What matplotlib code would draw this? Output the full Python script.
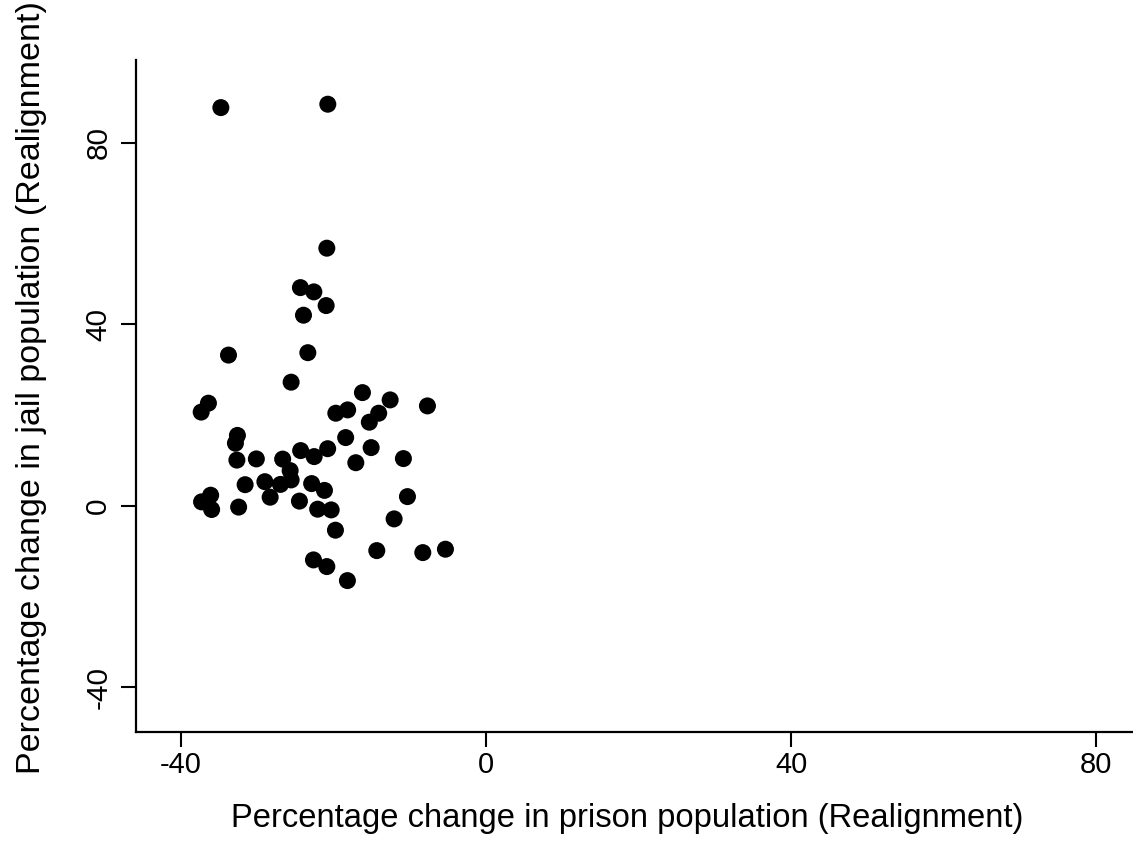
import matplotlib
matplotlib.use("Agg")
import matplotlib.pyplot as plt

plt.rcParams['font.family'] = ['Liberation Sans', 'DejaVu Sans']

# Percentage change in prison population by county (Realignment)
prison_change = [
    -34.77, -20.75, -20.88, -24.34, -22.58, -20.97, -23.94, -33.77, -23.37, -25.56,
    -36.40, -37.35, -16.21, -12.58, -7.69, -18.15, -19.70, -14.08, -15.31, -18.41,
    -32.60, -32.86, -15.07, -24.31, -20.77, -22.54, -10.84, -17.08, -32.67, -30.12,
    -26.67, -25.69, -25.56, -29.00, -31.59, -26.96, -22.87, -21.19, -10.31, -36.11,
    -37.30, -35.98, -32.44, -28.31, -24.47, -22.08, -20.31, -19.75, -12.06, -14.33,
    -8.30, -5.33, -22.63, -20.88, -18.18,
]

# Percentage change in jail population by county (Realignment)
jail_change = [
    87.71, 88.46, 56.73, 48.04, 47.10, 44.08, 41.96, 33.17, 33.70, 27.20,
    22.57, 20.61, 24.90, 23.29, 21.97, 21.09, 20.36, 20.36, 18.38, 14.99,
    15.47, 13.75, 12.78, 12.12, 12.54, 10.80, 10.36, 9.45, 10.03, 10.29,
    10.25, 7.71, 5.66, 5.27, 4.61, 4.67, 4.85, 3.35, 1.98, 2.29,
    0.82, -0.86, -0.33, 1.85, 0.99, -0.79, -0.95, -5.42, -2.93, -9.92,
    -10.36, -9.61, -11.97, -13.44, -16.53,
]

x_ticks = [-40, 0, 40, 80]
y_ticks = [-40, 0, 40, 80]

fig = plt.figure(figsize=(11.33, 8.5), dpi=100)
ax = fig.add_axes([0.12, 0.1388, 0.88, 0.7906])

ax.scatter(prison_change, jail_change, s=150, color='black', edgecolors='none', zorder=3)

ax.set_xlim(-45.9, 84.8)
ax.set_ylim(-49.9, 98.2)
ax.set_xticks(x_ticks)
ax.set_yticks(y_ticks)
ax.set_xticklabels([str(v) for v in x_ticks], fontsize=21)
ax.set_yticklabels([str(v) for v in y_ticks], fontsize=21.5, rotation=90, va='center')

ax.tick_params(axis='both', direction='out', length=11, width=1.5, color='black')
ax.tick_params(axis='x', pad=3)
ax.tick_params(axis='y', pad=6)

for side in ['top', 'right']:
    ax.spines[side].set_visible(False)
for side in ['left', 'bottom']:
    ax.spines[side].set_linewidth(1.6)

ax.set_xlabel('Percentage change in prison population (Realignment)', fontsize=23.6, va='center')
ax.set_ylabel('Percentage change in jail population (Realignment)', fontsize=24.5, va='center')
ax.xaxis.set_label_coords(0.4925, -0.128)
ax.yaxis.set_label_coords(-0.105, 0.512)

fig.savefig('out.png', dpi=100)
